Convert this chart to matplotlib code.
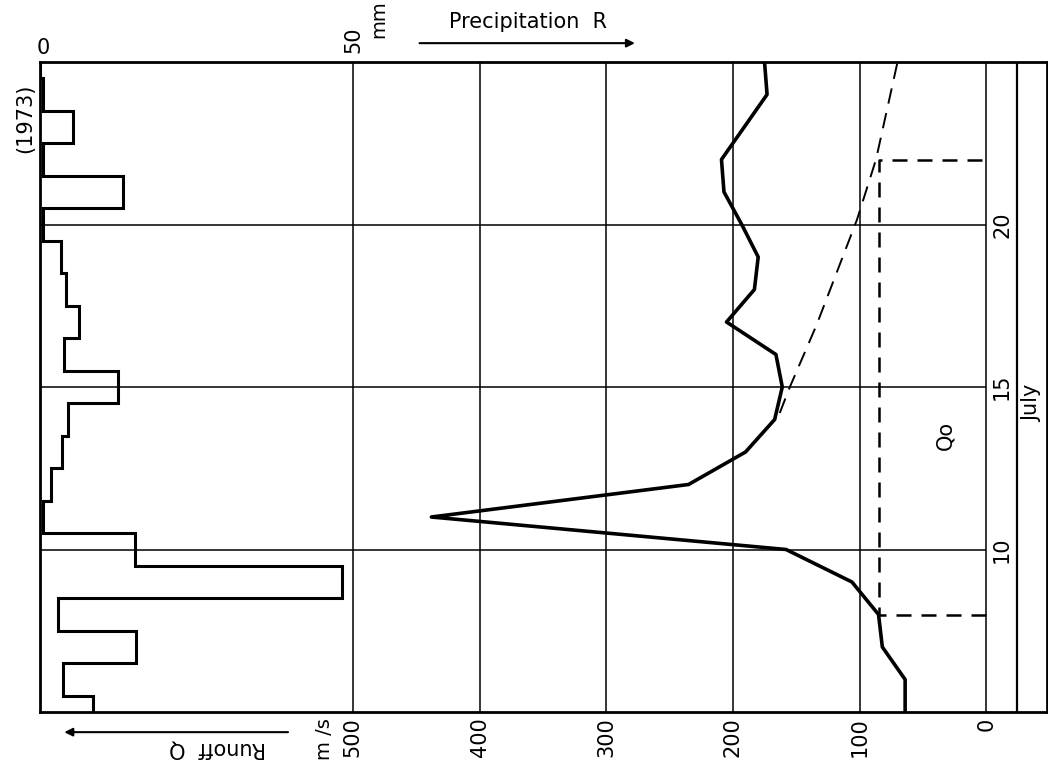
import matplotlib
matplotlib.use('Agg')
import matplotlib.pyplot as plt

# July 1973, daily values (days 5..25)
days = [5, 6, 7, 8, 9, 10, 11, 12, 13, 14, 15, 16, 17, 18, 19, 20, 21, 22, 23, 24, 25]
runoff = [64, 64, 82, 85, 106, 158, 438, 235, 190, 167, 161, 166, 205, 183, 180, 193, 207, 209, 191, 173, 175]
precip = [8.5, 3.7, 15.4, 2.8, 48.2, 15.2, 0.4, 1.7, 3.5, 4.5, 12.4, 3.9, 6.2, 4.2, 3.3, 0.4, 13.2, 0.4, 5.3, 0.4, 0.0]

# dashed recession curve
rec_days = [14.2, 15.0, 16.9, 20.15, 22.0, 25.0]
rec_q = [163, 155, 134, 102, 87, 70]

# base flow Qo box
q0 = 85
q0_days = [8, 22]

q_ticks = [500, 400, 300, 200, 100, 0]
day_ticks = [10, 15, 20]

fig = plt.figure(figsize=(10.48, 7.7), dpi=100)
ax = fig.add_axes([40/1048, 58/770, 1007/1048, 650/770])
ax.set_xlim(747, -48)
ax.set_ylim(5, 25)
for s in ax.spines.values():
    s.set_linewidth(2.0)

# grid
ax.set_xticks(q_ticks)
ax.set_xticklabels([str(v) for v in q_ticks])
ax.tick_params(axis='x', length=0, pad=4, labelsize=15, labelrotation=90)
ax.set_yticks([])
ax.grid(axis='x', color='k', lw=1.1)
ax.hlines(day_ticks, 0, 747, color='k', lw=1.1)
ax.axvline(-24.5, color='k', lw=1.6)

# runoff
ax.plot(runoff, days, color='k', lw=2.6, zorder=5)
ax.plot(rec_q, rec_days, color='k', lw=1.4, dashes=(8, 5), zorder=5)
ax.plot([0, q0, q0, 0], [q0_days[0], q0_days[0], q0_days[1], q0_days[1]],
        color='k', lw=1.8, dashes=(6, 4), zorder=5)

# precipitation bars on twin axis
ax2 = ax.twiny()
ax2.set_xlim(0, 160.9)
ax2.set_ylim(5, 25)
edges = [d - 0.5 for d in days] + [days[-1] + 0.5]
ax2.stairs(precip, edges, orientation='horizontal', baseline=0, color='k', lw=2.2)
ax2.set_xticks([])
for s in ax2.spines.values():
    s.set_visible(False)

# labels
xt = ax.get_xaxis_transform()
for d in day_ticks:
    ax.text(-12.5, d, str(d), rotation=90, ha='center', va='center', fontsize=15)
ax.text(-36, 14.5, 'July', rotation=90, ha='center', va='center', fontsize=15)
ax.text(32, 13.5, 'Qo', rotation=90, ha='center', va='center', fontsize=15)
ax.text(522, -0.01, 'm /s', transform=xt, rotation=90, ha='center', va='top', fontsize=14)
ax.text(607, -0.056, 'Runoff  Q', transform=xt, rotation=180, ha='center', va='center', fontsize=15)
ax.annotate('', xy=(730, -0.031), xytext=(549, -0.031), xycoords=xt, textcoords=xt,
            arrowprops=dict(arrowstyle='-|>', color='k', lw=1.5, mutation_scale=12), annotation_clip=False)

xt2 = ax2.get_xaxis_transform()
ax2.text(0.5, 1.022, '0', transform=xt2, ha='center', va='center', fontsize=15)
ax2.text(50, 1.034, '50', transform=xt2, rotation=90, ha='center', va='center', fontsize=15)
ax2.text(54.2, 1.066, 'mm', transform=xt2, rotation=90, ha='center', va='center', fontsize=14)
ax2.text(78, 1.062, 'Precipitation  R', transform=xt2, ha='center', va='center', fontsize=15)
ax2.annotate('', xy=(95.5, 1.029), xytext=(60.2, 1.029), xycoords=xt2, textcoords=xt2,
             arrowprops=dict(arrowstyle='-|>', color='k', lw=1.5, mutation_scale=12), annotation_clip=False)

fig.text(25/1048, 1 - 118/770, '(1973)', rotation=90, ha='center', va='center', fontsize=15)

fig.savefig('out.png', dpi=100)
